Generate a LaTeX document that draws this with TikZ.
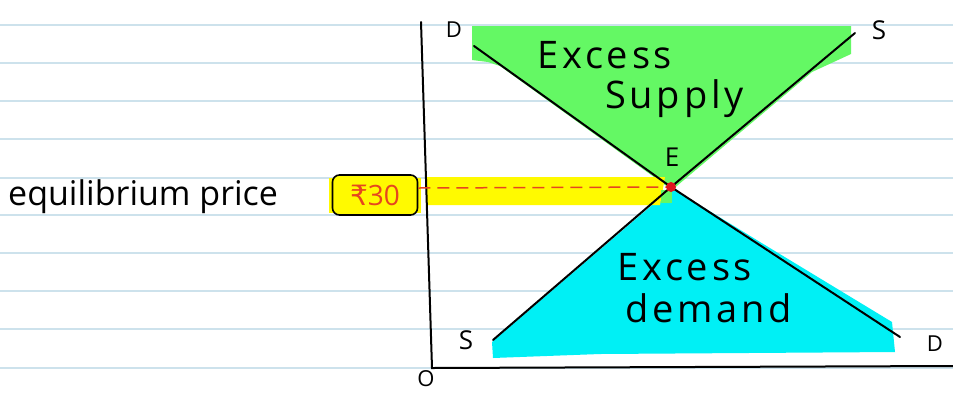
\documentclass[tikz,border=0pt]{standalone}
\usepackage{fontspec}
\setmainfont{Open Sans}
\newfontfamily\handwide[LetterSpace=10]{Open Sans}
\newfontfamily\rupeefont{DejaVu Sans}
\definecolor{rulecol}{RGB}{205,226,236}
\definecolor{gfill}{RGB}{100,248,100}
\definecolor{cfill}{RGB}{0,240,245}
\definecolor{yfill}{RGB}{255,250,0}
\definecolor{redline}{RGB}{230,70,30}
\definecolor{dotred}{RGB}{225,20,30}
\tikzset{
  rule/.style={draw=rulecol, line width=1.4pt},
  axisline/.style={draw=black, line width=2pt, line cap=round},
  curve/.style={draw=black, line width=2pt, line cap=round},
  lbl/.style={inner sep=0pt, font=\fontsize{26}{26}\selectfont},
  big/.style={inner sep=0pt, anchor=base west, font=\handwide\fontsize{38}{38}\selectfont},
  pricebox/.style={draw=black, line width=1.6pt, fill=yfill, rounded corners=7pt,
    minimum width=85pt, minimum height=40pt, inner sep=0pt, text=redline,
    font=\fontsize{28}{28}\selectfont},
  eqdash/.style={draw=redline, line width=1.5pt, dash pattern=on 12pt off 7pt}
}
\begin{document}
\begin{tikzpicture}[x=1pt,y=-1pt]
\useasboundingbox (0,0) rectangle (953,392);
\fill[white] (0,0) rectangle (953,392);
% ruled lines
\foreach \yy in {25,63,101,139,178,215,253,291,329,368}
  \draw[rule] (0,\yy) -- (953,\yy);
% key points
\coordinate (E) at (671,187);
\coordinate (Dtop) at (474,46);
\coordinate (Dbot) at (900,337);
\coordinate (Stop) at (855,33);
\coordinate (Sbot) at (493,340);
\coordinate (Otop) at (421,22);
\coordinate (O) at (432,368);
\coordinate (Xend) at (953,366);
% coloured regions
\fill[gfill] (472,26) -- (851,26) -- (851,54) -- (812,72) -- (672,190) -- (500,66) -- (488,62) -- (472,60) -- cycle;
\fill[cfill] (672,188) -- (760,242) -- (892,322) -- (895,352) -- (600,354) -- (493,358) -- (492,342) -- cycle;
\fill[yfill] (427,177) -- (665,177) -- (660,205) -- (427,205) -- cycle;
\fill[gfill] (661,190) -- (672,190) -- (672,203) -- (661,203) -- cycle;
\fill[yfill] (329,178) rectangle (421,213);
% axes
\draw[axisline] (Otop) -- (O) -- (Xend);
% curves
\draw[curve] (Dtop) -- (E) -- (Dbot);
\draw[curve] (Sbot) -- (E) -- (Stop);
% price box and dashed line
\node[pricebox] (p30) at (375,195) {{\rupeefont ₹}30};
\draw[eqdash] (p30.east |- 0,188) -- (E);
\fill[dotred] (E) circle (5);
% labels
\node[lbl, anchor=base west, font=\fontsize{34}{34}\selectfont] (eqp) at (8,205) {equilibrium price};
\node[big] (ex1) at (537,68) {Excess};
\node[big] (sup) at (605,108) {Supply};
\node[big] (ex2) at (617,280) {Excess};
\node[big] (dem) at (625,322) {demand};
\node[lbl] (lE) at (672,157) {E};
\node[lbl, font=\fontsize{22}{22}\selectfont] (lD1) at (454,30) {D};
\node[lbl] (lS1) at (879,30) {S};
\node[lbl] (lS2) at (466,340) {S};
\node[lbl, font=\fontsize{22}{22}\selectfont] (lD2) at (935,344) {D};
\node[lbl, font=\fontsize{22}{22}\selectfont] (lO) at (426,379) {O};
\end{tikzpicture}
\end{document}
